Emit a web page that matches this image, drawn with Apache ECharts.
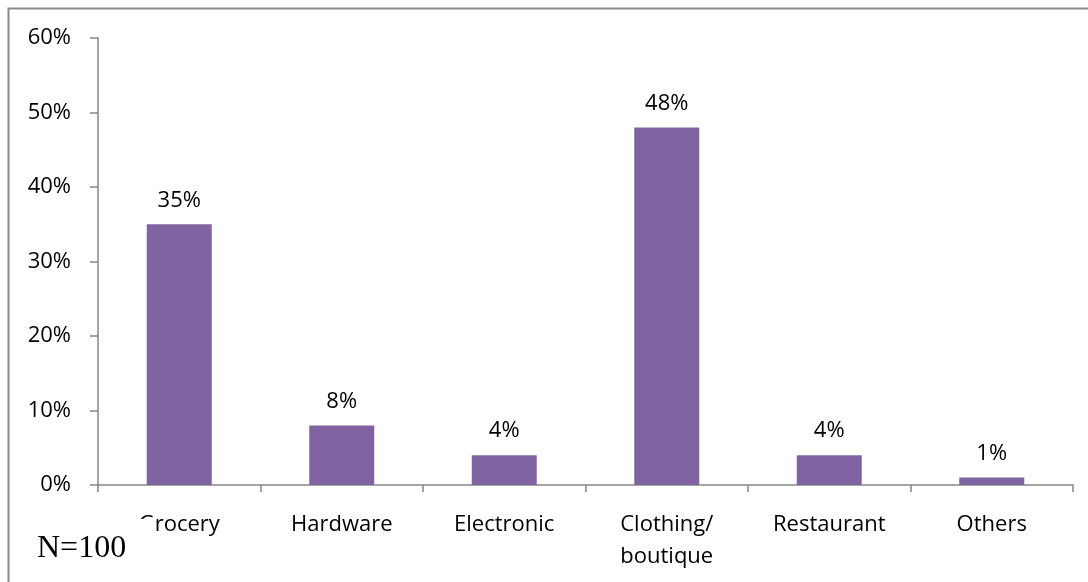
<!DOCTYPE html>
<html>
<head>
<meta charset="utf-8">
<script src="https://cdn.jsdelivr.net/npm/echarts@6/dist/echarts.min.js"></script>
<style>
  html, body { margin: 0; padding: 0; background: #fff; }
  #chart { width: 1088px; height: 582px; }
</style>
</head>
<body>
<div id="chart"></div>
<script>
// Business type shares (percent of respondents)
const categories = ['Grocery', 'Hardware', 'Electronic', 'Clothing/\nboutique', 'Restaurant', 'Others'];
const shares = [35, 8, 4, 48, 4, 1];
const sampleNote = 'N=100';

const chart = echarts.init(document.getElementById('chart'), null, { renderer: 'canvas' });
const axisGray = '#868686';
const font = '"Open Sans", "Noto Sans", sans-serif';

chart.setOption({
  animation: false,
  grid: { left: 98, right: 15, top: 38, bottom: 97, containLabel: false },
  xAxis: {
    type: 'category',
    data: categories,
    axisLine: { lineStyle: { color: axisGray, width: 1.5 } },
    axisTick: { show: true, length: 7, lineStyle: { color: axisGray, width: 1.5 } },
    axisLabel: { color: '#000', fontSize: 22, fontFamily: font, margin: 24, lineHeight: 32, interval: 0 }
  },
  yAxis: {
    type: 'value',
    min: 0, max: 60, interval: 10,
    axisLine: { show: true, lineStyle: { color: axisGray, width: 1.5 } },
    axisTick: { show: true, length: 8, lineStyle: { color: axisGray, width: 1.5 } },
    splitLine: { show: false },
    axisLabel: { color: '#000', fontSize: 22, fontFamily: font, margin: 27, formatter: '{value}%' }
  },
  series: [{
    type: 'bar',
    data: shares,
    barWidth: '40%',
    itemStyle: { color: '#8064A2' },
    label: {
      show: true, position: 'top', distance: 13,
      color: '#000', fontSize: 22, fontFamily: font,
      formatter: p => p.value + '%'
    }
  }],
  graphic: [
    // outer frame (left and top edges visible)
    { type: 'polyline', shape: { points: [[8.5, 582], [8.5, 8.5], [1088, 8.5]] },
      style: { stroke: '#8c8c8c', lineWidth: 2, fill: null }, z: 100 },
    // note box, drawn over the start of the first category label
    { type: 'rect', shape: { x: 30, y: 519, width: 124, height: 58 },
      style: { fill: '#fff' }, z: 90 },
    { type: 'text', x: 37, y: 549,
      style: { text: sampleNote, font: '32px "Liberation Serif", "DejaVu Serif", serif', fill: '#000', verticalAlign: 'middle' }, z: 95 }
  ]
});
</script>
</body>
</html>
